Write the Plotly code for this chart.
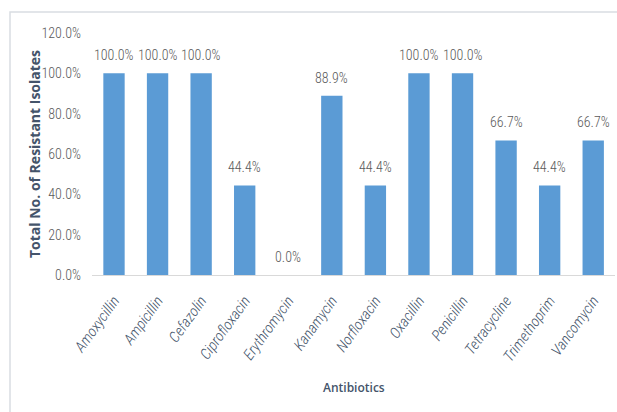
import plotly.graph_objects as go

antibiotics = ["Amoxycillin", "Ampicillin", "Cefazolin", "Ciprofloxacin", "Erythromycin",
               "Kanamycin", "Norfloxacin", "Oxacillin", "Penicillin", "Tetracycline",
               "Trimethoprim", "Vancomycin"]
resistant = [1.0, 1.0, 1.0, 0.444, 0.0, 0.889, 0.444, 1.0, 1.0, 0.667, 0.444, 0.667]
y_ticks = [0, 0.2, 0.4, 0.6, 0.8, 1.0, 1.2]
x_title = "Antibiotics"
y_title = "Total No. of Resistant Isolates"

NARROW = "Roboto Condensed"
TITLE = "Open Sans"

fig = go.Figure(go.Bar(
    x=antibiotics, y=resistant,
    marker=dict(color="#5b9bd5", line=dict(width=0)),
    hoverinfo="x+y",
))

for name, v in zip(antibiotics, resistant):
    fig.add_annotation(x=name, y=v, text=f"{v*100:.1f}%", showarrow=False,
                       yanchor="middle", yshift=18,
                       font=dict(family=NARROW, size=14, color="#595959", weight=300))

W, H = 617, 412
l, r, t, b = 92, 2, 33, 137
pw, ph = W - l - r, H - t - b

def px(x):
    return (x - l) / pw

def py(y):
    return (H - b - y) / ph

fig.add_shape(type="rect", xref="paper", yref="paper",
              x0=px(10), x1=px(640), y0=py(440), y1=py(12),
              line=dict(color="#d9dde2", width=1.5), fillcolor="rgba(0,0,0,0)", layer="below")

fig.add_annotation(xref="paper", yref="paper", x=px(34), y=py(154), text=f"<b>{y_title}</b>",
                   textangle=-90, showarrow=False, xanchor="center", yanchor="middle",
                   font=dict(family=TITLE, size=14, color="#44546a"))
fig.add_annotation(xref="paper", yref="paper", x=0.5, y=py(387), text=x_title,
                   showarrow=False, xanchor="center", yanchor="middle",
                   font=dict(family=TITLE, size=12, color="#44546a", weight=600))

fig.update_layout(
    width=W, height=H,
    margin=dict(l=l, r=r, t=t, b=b),
    paper_bgcolor="white", plot_bgcolor="white",
    bargap=0.51,
    showlegend=False,
    xaxis=dict(
        tickangle=-54,
        tickfont=dict(family=NARROW, size=15, color="#44546a", style="italic", weight=300),
        showline=True, linecolor="#d9d9d9", linewidth=1,
        ticks="", ticklabelstandoff=10,
    ),
    yaxis=dict(
        range=[0, 1.2],
        tickvals=y_ticks,
        tickformat=".1%",
        tickfont=dict(family=NARROW, size=14, color="#595959", weight=300),
        showgrid=False, zeroline=False, showline=False,
        ticks="", ticklabelstandoff=10,
    ),
)

fig.write_html("out.html")
